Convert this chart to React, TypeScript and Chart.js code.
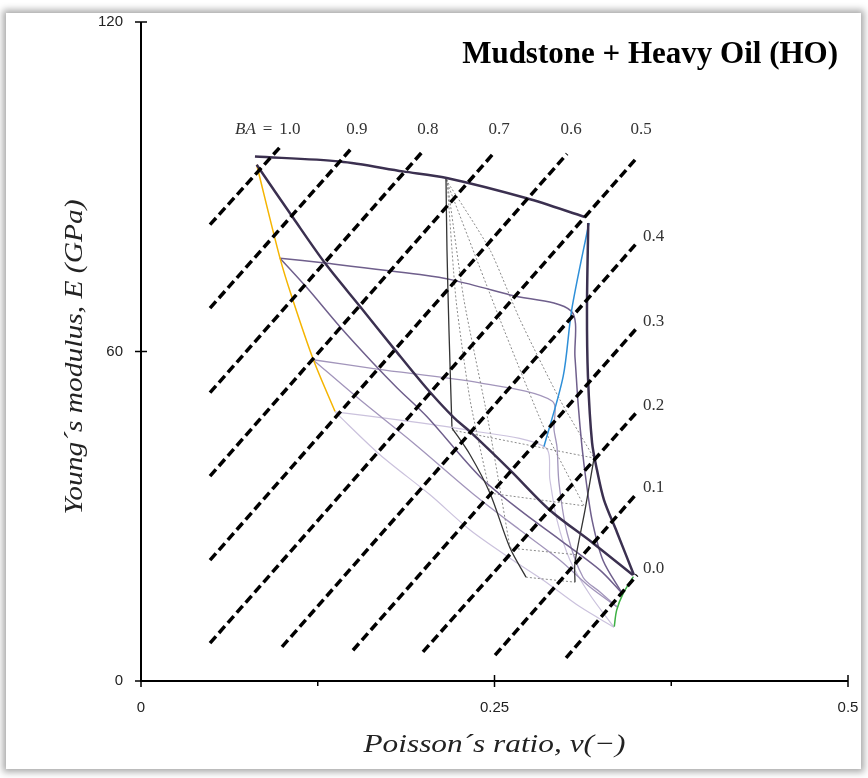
import React, { useEffect, useRef } from 'react';
import { Chart, registerables } from 'chart.js';

Chart.register(...registerables);

// ---------- axis ticks ----------
const xTickValues = [0, 0.25, 0.5];
const xMinorTicks = [0.125, 0.375];
const yTickValues = [0, 60, 120];

// ---------- BA iso-lines (dashed) ----------
const baLabels = ['1.0', '0.9', '0.8', '0.7', '0.6', '0.5', '0.4', '0.3', '0.2', '0.1', '0.0'];
const baStart: number[][] = [
  [0.0488, 83.1], [0.0488, 67.9], [0.0488, 52.5], [0.0488, 37.3], [0.0488, 22.0], [0.0488, 6.9],
  [0.0997, 6.2], [0.1499, 5.6], [0.1994, 5.3], [0.2504, 4.7], [0.3006, 4.2],
];
const baEnd: number[][] = [
  [0.0997, 97.6], [0.1499, 97.3], [0.2001, 96.7], [0.2504, 96.4], [0.3013, 96.0], [0.3508, 95.3],
  [0.3508, 79.8], [0.3508, 64.3], [0.3508, 49.0], [0.3508, 34.2], [0.3508, 19.3],
];

// ---------- template outline ----------
const topEdge = [[0.0806, 95.5], [0.1407, 94.6], [0.1853, 92.8], [0.2162, 91.6], [0.2728, 87.9], [0.314, 84.5]];
const rightEdge = [[0.3163, 83.4], [0.3154, 67.6], [0.3161, 55.4], [0.319, 43.4], [0.3225, 38.4], [0.3274, 33.0], [0.3366, 27.1], [0.3486, 19.3]];
const mainDiagonal = [[0.0818, 94.0], [0.1077, 84.3], [0.1301, 76.1], [0.1549, 68.2], [0.1796, 60.3], [0.202, 53.3], [0.2207, 48.1], [0.2327, 45.4], [0.261, 38.4], [0.2892, 31.1], [0.3197, 25.1], [0.3479, 19.3]];
const yellowEdge = [[0.0818, 94.0], [0.0983, 77.0], [0.1066, 70.0], [0.1219, 58.5], [0.1372, 49.1]];
const blueEdge = [[0.3168, 83.4], [0.3046, 67.6], [0.2986, 55.5], [0.285, 42.7]];
const greenEdge = [[0.3482, 19.0], [0.3411, 16.0], [0.3364, 12.9], [0.3347, 9.9]];

// ---------- inner purple grid ----------
const hLine1 = [[0.0983, 77.0], [0.1301, 76.1], [0.1973, 74.0], [0.2207, 73.0], [0.261, 70.3], [0.3041, 67.4], [0.3069, 59.0], [0.3091, 50.6], [0.3119, 42.6], [0.3147, 36.6], [0.319, 29.3], [0.3267, 22.0], [0.3402, 16.0]];
const hLine2 = [[0.1216, 58.5], [0.1669, 56.8], [0.2397, 54.3], [0.2907, 51.0], [0.2921, 45.7], [0.2942, 42.6], [0.2956, 36.1], [0.3013, 27.0], [0.3126, 18.9], [0.3246, 16.2], [0.3366, 13.5]];
const hLine3 = [[0.1372, 49.0], [0.1832, 47.5], [0.2306, 45.7], [0.2857, 42.6], [0.2892, 36.6], [0.2942, 29.3], [0.3034, 22.0], [0.3175, 15.7], [0.3345, 9.8]];
const dLine1 = [[0.0983, 77.0], [0.1174, 71.6], [0.1407, 64.5], [0.1641, 57.9], [0.181, 53.4], [0.2023, 48.1], [0.2397, 37.2], [0.268, 31.1], [0.2963, 25.7], [0.3246, 20.2], [0.3402, 16.0]];
const dLine2 = [[0.1216, 58.5], [0.1549, 51.2], [0.1924, 43.4], [0.2376, 33.5], [0.268, 27.5], [0.2963, 22.0], [0.3175, 17.1], [0.3366, 13.5]];
const dLine3 = [[0.1372, 49.0], [0.169, 41.2], [0.2044, 33.9], [0.2327, 27.5], [0.2631, 22.0], [0.2843, 18.4], [0.3105, 13.5], [0.3345, 9.8]];

// ---------- gray overlay template ----------
const grayLeft1 = [[0.2157, 91.4], [0.2164, 78.5], [0.2178, 63.9], [0.2199, 46.3]];
const grayLeft2 = [[0.2199, 46.1], [0.2327, 41.2], [0.2468, 34.2], [0.261, 24.2], [0.2723, 18.9]];
const grayRight = [[0.3069, 18.0], [0.3069, 21.5], [0.314, 31.1], [0.3204, 40.6]];
const grayRow1 = [[0.2199, 45.7], [0.3204, 40.6]];
const grayRow2 = [[0.2468, 34.2], [0.3133, 31.9]];
const grayRow3 = [[0.261, 24.2], [0.3076, 23.0]];
const grayRow4 = [[0.2723, 18.9], [0.3069, 18.0]];
const grayFan1 = [[0.2157, 91.3], [0.2468, 78.5], [0.268, 65.8], [0.2963, 51.2], [0.3204, 40.6]];
const grayFan2 = [[0.2164, 91.3], [0.2228, 69.4], [0.2327, 51.2], [0.2468, 34.2]];
const grayFan3 = [[0.2164, 91.3], [0.2284, 69.4], [0.2454, 47.5], [0.261, 24.2]];
const grayFan4 = [[0.2157, 91.3], [0.2539, 65.8], [0.2857, 45.7], [0.3133, 31.9]];

const COL_THICK = '#3b3050';
const COL_H1 = '#6f5f8c';
const COL_H2 = '#a295bb';
const COL_H3 = '#cbc2dd';

function ds(points: number[][], color: string, width: number, order: number, extra: any = {}) {
  return {
    data: points.map(([x, y]) => ({ x, y })),
    showLine: true,
    borderColor: color,
    backgroundColor: color,
    borderWidth: width,
    pointRadius: 0,
    pointHoverRadius: 0,
    tension: 0.3,
    fill: false,
    order,
    ...extra,
  };
}

function stretchedText(ctx: any, text: string, cx: number, cy: number, targetW: number) {
  const w = ctx.measureText(text).width;
  const k = w > 0 ? targetW / w : 1;
  ctx.save();
  ctx.translate(cx, cy);
  ctx.scale(k, 1);
  ctx.fillText(text, 0, 0);
  ctx.restore();
}

const decor = {
  id: 'decor',
  afterDatasetsDraw(chart: any) {
    const { ctx, scales } = chart;
    const xs = scales.x;
    const ys = scales.y;
    const x0 = xs.getPixelForValue(0);
    const x1 = xs.getPixelForValue(0.5);
    const y0 = ys.getPixelForValue(0);
    const y1 = ys.getPixelForValue(120);
    ctx.save();
    ctx.strokeStyle = '#000';
    ctx.lineWidth = 2;
    ctx.beginPath();
    ctx.moveTo(x0, y1);
    ctx.lineTo(x0, y0);
    ctx.lineTo(x1, y0);
    ctx.stroke();
    ctx.lineWidth = 1.5;
    yTickValues.forEach((v) => {
      const p = ys.getPixelForValue(v);
      ctx.beginPath();
      ctx.moveTo(x0 - 6, p);
      ctx.lineTo(x0 + 6, p);
      ctx.stroke();
    });
    xTickValues.forEach((v) => {
      const p = xs.getPixelForValue(v);
      ctx.beginPath();
      ctx.moveTo(p, y0 - 6);
      ctx.lineTo(p, y0 + 6);
      ctx.stroke();
    });
    xMinorTicks.forEach((v) => {
      const p = xs.getPixelForValue(v);
      ctx.beginPath();
      ctx.moveTo(p, y0);
      ctx.lineTo(p, y0 + 5);
      ctx.stroke();
    });

    // BA labels
    const regular = '17px "Liberation Serif", serif';
    const italic = 'italic 17px "Liberation Serif", serif';
    ctx.fillStyle = '#333';
    ctx.font = regular;
    ctx.textBaseline = 'middle';
    baLabels.forEach((lab, i) => {
      const px = xs.getPixelForValue(baEnd[i][0]);
      const py = ys.getPixelForValue(baEnd[i][1]);
      if (i < 6) {
        const ly = ys.getPixelForValue(100.5);
        ctx.textAlign = 'center';
        const cx = px + (i === 0 ? 8 : 4);
        ctx.font = regular;
        ctx.fillText(lab, cx, ly);
        if (i === 0) {
          const w = ctx.measureText(lab).width;
          ctx.textAlign = 'right';
          ctx.fillText('=', cx - w / 2 - 7, ly);
          const wEq = ctx.measureText('=').width;
          ctx.font = italic;
          ctx.fillText('BA', cx - w / 2 - 14 - wEq, ly);
          ctx.font = regular;
        }
      } else {
        ctx.textAlign = 'left';
        ctx.fillText(lab, px + 6, py - 6);
      }
    });

    // title
    ctx.fillStyle = '#000';
    ctx.font = 'bold 31px "Liberation Serif", serif';
    ctx.textAlign = 'right';
    ctx.textBaseline = 'alphabetic';
    ctx.fillText('Mudstone + Heavy Oil (HO)', 838, 63);

    // axis titles
    ctx.fillStyle = '#222';
    ctx.font = 'italic 26px "Liberation Serif", serif';
    ctx.textAlign = 'center';
    ctx.textBaseline = 'middle';
    stretchedText(ctx, 'Poisson\u00B4s ratio, v(\u2212)', (x0 + x1) / 2, 745, 262);
    ctx.save();
    ctx.translate(75, 357);
    ctx.rotate(-Math.PI / 2);
    stretchedText(ctx, 'Young\u00B4s modulus, E (GPa)', 0, 0, 315);
    ctx.restore();
    ctx.restore();
  },
};

export default function App() {
  const ref = useRef<HTMLCanvasElement>(null);
  useEffect(() => {
    const dotted = { borderDash: [2, 2], tension: 0.2 };
    const dashed = baLabels.map((_, i) =>
      ds([baStart[i], baEnd[i]], '#000', 3.5, 0, { borderDash: [9, 4.5], tension: 0, borderCapStyle: 'butt' })
    );
    const datasets: any[] = [
      ...dashed,
      ds(topEdge, COL_THICK, 2.5, 1),
      ds(rightEdge, COL_THICK, 2.5, 1),
      ds(mainDiagonal, COL_THICK, 2.5, 1),
      ds(yellowEdge, '#f5b400', 1.5, 2),
      ds(blueEdge, '#2e8fd8', 1.5, 2),
      ds(greenEdge, '#3cb043', 1.5, 2),
      ds(hLine1, COL_H1, 1.5, 3),
      ds(dLine1, COL_H1, 1.5, 3),
      ds(hLine2, COL_H2, 1.3, 4),
      ds(dLine2, COL_H2, 1.3, 4),
      ds(hLine3, COL_H3, 1.2, 5),
      ds(dLine3, COL_H3, 1.2, 5),
      ds(grayLeft1, '#333', 1.3, 2),
      ds(grayLeft2, '#333', 1.3, 2),
      ds(grayRight, '#333', 1.3, 2),
      ds(grayRow1, '#8a8a8a', 1, 3, dotted),
      ds(grayRow2, '#8a8a8a', 1, 3, dotted),
      ds(grayRow3, '#8a8a8a', 1, 3, dotted),
      ds(grayRow4, '#8a8a8a', 1, 3, dotted),
      ds(grayFan1, '#8a8a8a', 1, 3, dotted),
      ds(grayFan2, '#8a8a8a', 1, 3, dotted),
      ds(grayFan3, '#8a8a8a', 1, 3, dotted),
      ds(grayFan4, '#8a8a8a', 1, 3, dotted),
    ];
    const chart = new Chart(ref.current as HTMLCanvasElement, {
      type: 'scatter',
      data: { datasets },
      options: {
        animation: false,
        responsive: false,
        maintainAspectRatio: false,
        devicePixelRatio: 1,
        layout: { padding: { top: 22, right: 20, left: 0, bottom: 0 } },
        plugins: { legend: { display: false }, tooltip: { enabled: false }, title: { display: false } },
        events: [],
        scales: {
          x: {
            type: 'linear',
            min: 0,
            max: 0.5,
            afterBuildTicks: (s: any) => {
              s.ticks = xTickValues.map((v) => ({ value: v }));
            },
            afterFit: (s: any) => {
              s.height = 97;
              s.paddingLeft = 0;
              s.paddingRight = 0;
            },
            grid: { display: false, drawTicks: false },
            border: { display: false },
            ticks: {
              padding: 18,
              color: '#222',
              font: { family: '"Liberation Sans Narrow", "Liberation Sans", Arial', size: 15 },
              callback: (v: any) => String(v),
              maxRotation: 0,
              autoSkip: false,
            },
          },
          y: {
            type: 'linear',
            min: 0,
            max: 120,
            afterBuildTicks: (s: any) => {
              s.ticks = yTickValues.map((v) => ({ value: v }));
            },
            afterFit: (s: any) => {
              s.width = 141;
              s.paddingTop = 0;
              s.paddingBottom = 0;
            },
            grid: { display: false, drawTicks: false },
            border: { display: false },
            ticks: {
              padding: 18,
              color: '#222',
              font: { family: '"Liberation Sans Narrow", "Liberation Sans", Arial', size: 15 },
              callback: (v: any) => String(v),
              autoSkip: false,
            },
          },
        },
      },
      plugins: [decor],
    } as any);
    return () => chart.destroy();
  }, []);

  return (
    <div style={{ position: 'absolute', left: 0, top: 0, width: 868, height: 778, background: '#fff', overflow: 'hidden' }}>
      <div
        style={{
          position: 'absolute',
          left: 6,
          top: 13,
          width: 855,
          height: 756,
          background: '#fff',
          boxShadow: '0 0 7px 3px rgba(0,0,0,0.35)',
        }}
      />
      <canvas ref={ref} width={868} height={778} style={{ position: 'absolute', left: 0, top: 0, width: 868, height: 778 }} />
    </div>
  );
}
